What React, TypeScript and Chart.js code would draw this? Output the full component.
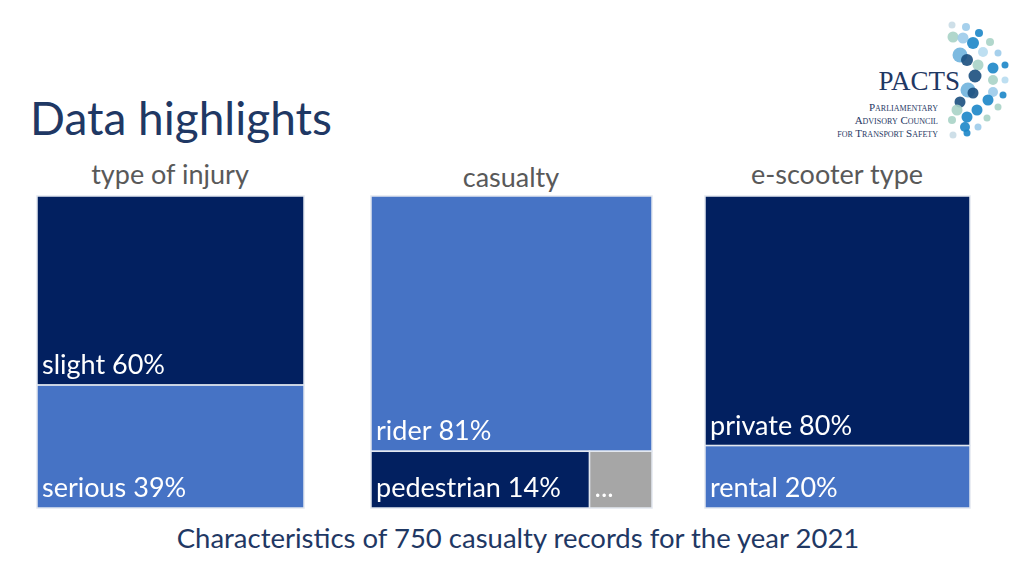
import React, { useEffect, useRef } from "react";
import { Chart, registerables } from "chart.js";

Chart.register(...registerables);

// ---- data ----
const injuryLabels = ["slight", "serious"];
const injuryValues = [60, 39];
const casualtyLabels = ["rider", "pedestrian", "..."];
const casualtyValues = [81, 14, 4];
const scooterLabels = ["private", "rental"];
const scooterValues = [80, 20];
const panelTitles = ["type of injury", "casualty", "e-scooter type"];

const NAVY = "#022060";
const BLUE = "#4673C5";
const GRAY = "#A6A6A6";
const TITLE_BLUE = "#1F3864";

const injuryColors = [NAVY, BLUE];
const casualtyColors = [BLUE, NAVY, GRAY];
const scooterColors = [NAVY, BLUE];

const sum = (a: number[]) => a.reduce((s, v) => s + v, 0);

// first item spans the full width on top, the rest share the bottom row
function layout(values: number[]) {
  const total = sum(values);
  const rects = [{ x0: 0, x1: 1, y0: 0, y1: values[0] }];
  const rest = values.slice(1);
  const restSum = sum(rest);
  let acc = 0;
  rest.forEach((v) => {
    rects.push({ x0: acc / restSum, x1: (acc + v) / restSum, y0: values[0], y1: total });
    acc += v;
  });
  return rects;
}

const treemapPlugin = {
  id: "treemapRects",
  afterDraw(chart: any, _args: any, opts: any) {
    const { ctx } = chart;
    const xs = chart.scales.x;
    const ys = chart.scales.y;
    const values: number[] = opts.values;
    const labels: string[] = opts.labels;
    const colors: string[] = opts.colors;
    const rects = layout(values);
    ctx.save();
    rects.forEach((r, i) => {
      const left = xs.getPixelForValue(r.x0);
      const right = xs.getPixelForValue(r.x1);
      const top = ys.getPixelForValue(r.y0);
      const bottom = ys.getPixelForValue(r.y1);
      ctx.fillStyle = colors[i];
      ctx.fillRect(left, top, right - left, bottom - top);
      ctx.strokeStyle = "#E3E8F0";
      ctx.lineWidth = 1.5;
      ctx.strokeRect(left, top, right - left, bottom - top);
      const text = labels[i] === "..." ? "..." : `${labels[i]} ${values[i]}%`;
      ctx.fillStyle = "#FFFFFF";
      ctx.font = "27px Lato";
      ctx.textBaseline = "alphabetic";
      ctx.textAlign = "left";
      ctx.fillText(text, left + 5, bottom - 11);
    });
    ctx.restore();
  },
};

function Treemap({ labels, values, colors, left, top, width, height }: any) {
  const ref = useRef<HTMLCanvasElement>(null);
  useEffect(() => {
    if (!ref.current) return;
    const chart = new Chart(ref.current, {
      type: "scatter",
      data: { datasets: [{ data: [] }] },
      options: {
        animation: false,
        responsive: false,
        devicePixelRatio: 1,
        layout: { padding: 1 },
        scales: {
          x: { type: "linear", min: 0, max: 1, display: false },
          y: { type: "linear", min: 0, max: sum(values), reverse: true, display: false },
        },
        plugins: {
          legend: { display: false },
          tooltip: { enabled: false },
          treemapRects: { labels, values, colors },
        } as any,
      },
      plugins: [treemapPlugin],
    });
    return () => chart.destroy();
  }, []);
  return (
    <canvas
      ref={ref}
      width={width}
      height={height}
      style={{ position: "absolute", left, top, width, height }}
    />
  );
}

const dots: [number, number, number, string][] = [
  [952, 25, 3.5, "#C9DCE6"], [966, 27, 4, "#9CCBEA"], [979, 33, 4, "#1C86C8"],
  [953, 37, 5.5, "#A9D3C6"], [963, 38, 5.5, "#9CCBEA"], [973, 43, 6, "#1C86C8"], [990, 42, 4, "#A9D3C6"],
  [983, 52, 5, "#B7DCEF"], [998, 53, 3.5, "#9CCBEA"],
  [960, 55, 7.5, "#6FB2DD"], [967, 60, 6, "#1B4F7E"], [978, 65, 5.5, "#A9D3C6"], [993, 68, 5.5, "#1C86C8"], [1005, 65, 3.5, "#1C86C8"],
  [975, 76, 6.5, "#1B4F7E"], [993, 80, 5, "#A9D3C6"], [1005, 80, 3.5, "#B7DCEF"],
  [968, 90, 7.5, "#6FB2DD"], [973, 93, 5.5, "#1B4F7E"], [993, 92, 5, "#9CCBEA"], [1003, 95, 3.5, "#1C86C8"],
  [988, 100, 5.5, "#1C86C8"], [998, 107, 3.5, "#A9D3C6"],
  [960, 102, 5.5, "#1B4F7E"], [957, 110, 5.5, "#A9D3C6"], [977, 110, 5.5, "#1C86C8"],
  [967, 117, 5.5, "#1C86C8"], [987, 118, 3.5, "#A9D3C6"],
  [952, 120, 4, "#A9D3C6"], [965, 127, 5, "#1C86C8"], [978, 127, 3.5, "#9CCBEA"],
  [953, 135, 3.5, "#C9DCE6"], [967, 133, 3.5, "#1C86C8"],
];

export default function App() {
  useEffect(() => {
    document.body.style.margin = "0";
  }, []);
  const panelStyle = (cx: number, top: number): React.CSSProperties => ({
    position: "absolute",
    left: cx - 150,
    width: 300,
    top,
    textAlign: "center",
    font: "27px Lato",
    color: "#595959",
    whiteSpace: "nowrap",
  });
  return (
    <div style={{ position: "fixed", left: 0, top: 0, width: 1024, height: 576, background: "#fff", overflow: "hidden" }}>
      <div style={{ position: "absolute", left: 30, top: 90, font: "46px Lato", color: TITLE_BLUE, whiteSpace: "nowrap" }}>
        Data highlights
      </div>
      <div style={panelStyle(170, 157)}>{panelTitles[0]}</div>
      <div style={panelStyle(511, 160)}>{panelTitles[1]}</div>
      <div style={panelStyle(837, 157)}>{panelTitles[2]}</div>

      <Treemap labels={injuryLabels} values={injuryValues} colors={injuryColors} left={36} top={195} width={269} height={314} />
      <Treemap labels={casualtyLabels} values={casualtyValues} colors={casualtyColors} left={370} top={195} width={283} height={314} />
      <Treemap labels={scooterLabels} values={scooterValues} colors={scooterColors} left={704} top={195} width={267} height={314} />

      <div style={{ position: "absolute", left: 0, width: 1036, top: 521, textAlign: "center", font: "27.5px Lato", color: TITLE_BLUE, whiteSpace: "nowrap" }}>
        Characteristics of 750 casualty records for the year 2021
      </div>

      <svg width={1024} height={160} style={{ position: "absolute", left: 0, top: 0 }}>
        {dots.map(([x, y, r, c], i) => (
          <circle key={i} cx={x} cy={y} r={r} fill={c} opacity={0.9} />
        ))}
        <text x={960} y={90} textAnchor="end" fontFamily="Liberation Serif" fontSize={27} fill={TITLE_BLUE}>PACTS</text>
        <text x={938} y={111} textAnchor="end" fontFamily="Liberation Serif" fontSize={11} fill={TITLE_BLUE} style={{ fontVariant: "small-caps" }}>Parliamentary</text>
        <text x={938} y={124} textAnchor="end" fontFamily="Liberation Serif" fontSize={11} fill={TITLE_BLUE} style={{ fontVariant: "small-caps" }}>Advisory Council</text>
        <text x={938} y={137} textAnchor="end" fontFamily="Liberation Serif" fontSize={11} fill={TITLE_BLUE} style={{ fontVariant: "small-caps" }}>for Transport Safety</text>
      </svg>
    </div>
  );
}
